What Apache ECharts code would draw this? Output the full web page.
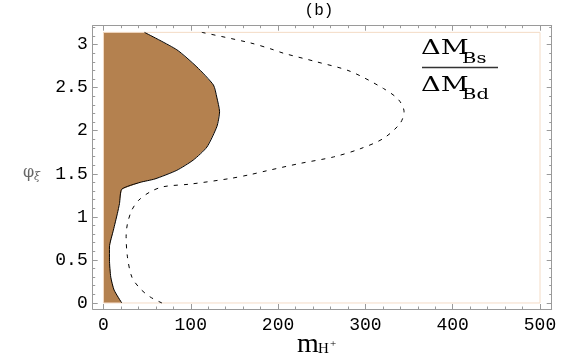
<!DOCTYPE html>
<html>
<head>
<meta charset="utf-8">
<script src="https://cdn.jsdelivr.net/npm/echarts@6/dist/echarts.min.js"></script>
<style>
  html, body { margin: 0; padding: 0; background: #fff; }
  #main { width: 576px; height: 356px; }
</style>
</head>
<body>
<div id="main"></div>
<script>
(function () {
    // tick values
    var xTicks = [0, 100, 200, 300, 400, 500];
    var yTicks = [0, 0.5, 1, 1.5, 2, 2.5, 3];
    var yTickLabels = ['0', '0.5', '1', '1.5', '2', '2.5', '3'];

    // region boundary (shaded area): m_H+ vs phi
    var fillMass = [47, 84, 107, 126, 129.8, 133, 130, 118.5, 103, 84, 59, 42, 21, 18.4, 16, 11.4, 6.9, 6.9, 8.4, 12.2, 21];
    var fillPhi = [3.1416, 2.94, 2.74, 2.53, 2.39, 2.22, 2.05, 1.81, 1.66, 1.54, 1.44, 1.40, 1.32, 1.155, 1.04, 0.845, 0.65, 0.50, 0.30, 0.15, 0];

    // dashed contour
    var dashMass = [112.7, 168, 194.6, 206, 244, 282.5, 320.7, 338, 344.3, 339.7, 320.6, 294, 263.4, 225.2, 187.1, 168, 145, 99.3, 68.7, 53.5, 40.1, 32.6, 27.5, 26, 27.5, 32.6, 42, 53.5, 67];
    var dashPhi = [3.1416, 3.02, 2.94, 2.90, 2.80, 2.69, 2.49, 2.36, 2.22, 2.084, 1.91, 1.79, 1.695, 1.62, 1.535, 1.49, 1.445, 1.38, 1.35, 1.29, 1.19, 1.08, 0.92, 0.77, 0.535, 0.30, 0.167, 0.07, 0];

    // plot region outline
    var regionMass = [0, 500, 500, 0, 0];
    var regionPhi = [0, 0, 3.1416, 3.1416, 0];

    var xMin = -12.3, xMax = 513.4;
    var yMin = -0.07, yMax = 3.219;

    var xMinor = [], yMinor = [];
    for (var i = 20; i < 500; i += 20) { if (i % 100 !== 0) xMinor.push(i); }
    for (var j = 1; j <= 32; j++) { if (j % 5 !== 0) yMinor.push(j / 10); }

    function zip(a, b) {
        var out = [];
        for (var k = 0; k < a.length; k++) out.push([a[k], b[k]]);
        return out;
    }

    var frameColor = '#9a9a9a';

    function xAxisDef(pos, ticks, len, showLine, labels) {
        return {
            type: 'value', position: pos, min: xMin, max: xMax,
            splitLine: { show: false },
            axisLine: { show: showLine, onZero: false, lineStyle: { color: frameColor, width: 1 } },
            axisTick: { show: true, inside: true, length: len, customValues: ticks, lineStyle: { color: frameColor } },
            axisLabel: labels ? {
                show: true, customValues: ticks, margin: 7,
                fontFamily: 'Liberation Mono', fontSize: 18, color: '#000'
            } : { show: false }
        };
    }

    function yAxisDef(pos, ticks, len, showLine, labels) {
        return {
            type: 'value', position: pos, min: yMin, max: yMax,
            splitLine: { show: false },
            axisLine: { show: showLine, onZero: false, lineStyle: { color: frameColor, width: 1 } },
            axisTick: { show: true, inside: true, length: len, customValues: ticks, lineStyle: { color: frameColor } },
            axisLabel: labels ? {
                show: true, customValues: ticks, margin: 5,
                fontFamily: 'Liberation Mono', fontSize: 18, color: '#000',
                formatter: function (v) {
                    var idx = yTicks.indexOf(v);
                    return idx >= 0 ? yTickLabels[idx] : '';
                }
            } : { show: false }
        };
    }

    var myChart = echarts.init(document.getElementById('main'));

    var fillPts = [[0, 3.1416]].concat(zip(fillMass, fillPhi)).concat([[0, 0]]);

    var option = {
        animation: false,
        backgroundColor: '#fff',
        grid: { left: 92.7, top: 25.7, right: 24.3, bottom: 47, containLabel: false },
        xAxis: [
            xAxisDef('bottom', xTicks, 5, true, true),
            xAxisDef('bottom', xMinor, 2.5, false, false),
            xAxisDef('top', xTicks, 5, true, false),
            xAxisDef('top', xMinor, 2.5, false, false)
        ],
        yAxis: [
            yAxisDef('left', yTicks, 5, true, true),
            yAxisDef('left', yMinor, 2.5, false, false),
            yAxisDef('right', yTicks, 5, true, false),
            yAxisDef('right', yMinor, 2.5, false, false)
        ],
        graphic: [
            { type: 'text', x: 319, y: 11, style: { text: '(b)', font: '16px "Liberation Mono"', fill: '#000', textAlign: 'center', textVerticalAlign: 'middle' } },
            // y axis name
            { type: 'text', x: 23, y: 173, style: { text: 'φ', font: '16px "DejaVu Serif"', fill: '#666', textAlign: 'left', textVerticalAlign: 'middle' } },
            { type: 'text', x: 34, y: 177, style: { text: 'ξ', font: 'italic 11px "DejaVu Serif"', fill: '#666', textAlign: 'left', textVerticalAlign: 'middle' } },
            // x axis name
            { type: 'text', x: 297, y: 359, style: { text: 'm', font: '28px "Liberation Serif"', fill: '#000', textAlign: 'left', textVerticalAlign: 'bottom' } },
            { type: 'text', x: 318, y: 357, style: { text: 'H', font: '15px "Liberation Serif"', fill: '#000', textAlign: 'left', textVerticalAlign: 'bottom' } },
            { type: 'text', x: 330, y: 350, style: { text: '+', font: '11px "Liberation Serif"', fill: '#000', textAlign: 'left', textVerticalAlign: 'bottom' } },
            // ratio annotation
            { type: 'text', x: 421, y: 59, scaleX: 1.3, style: { text: 'ΔM', font: '21px "DejaVu Serif"', fill: '#000', textAlign: 'left', textVerticalAlign: 'bottom' } },
            { type: 'text', x: 462, y: 66, scaleX: 1.4, style: { text: 'Bs', font: '14px "DejaVu Serif"', fill: '#000', textAlign: 'left', textVerticalAlign: 'bottom' } },
            { type: 'line', shape: { x1: 422, y1: 67.5, x2: 498, y2: 67.5 }, style: { stroke: '#333', lineWidth: 1.5 } },
            { type: 'text', x: 421, y: 96, scaleX: 1.3, style: { text: 'ΔM', font: '21px "DejaVu Serif"', fill: '#000', textAlign: 'left', textVerticalAlign: 'bottom' } },
            { type: 'text', x: 462, y: 102, scaleX: 1.4, style: { text: 'Bd', font: '14px "DejaVu Serif"', fill: '#000', textAlign: 'left', textVerticalAlign: 'bottom' } }
        ],
        series: [
            {
                type: 'line', data: zip(regionMass, regionPhi), symbol: 'none',
                lineStyle: { color: '#f4dcc6', width: 1 }, silent: true
            },
            {
                type: 'custom', data: [[0, 0]], silent: true,
                renderItem: function (params, api) {
                    var pts = fillPts.map(function (p) { return api.coord(p); });
                    return { type: 'polygon', shape: { points: pts }, style: { fill: '#b4814f', stroke: null } };
                }
            },
            {
                type: 'line', data: zip(fillMass, fillPhi), symbol: 'none', smooth: 0.2,
                lineStyle: { color: '#000', width: 1 }, silent: true
            },
            {
                type: 'line', data: zip(dashMass, dashPhi), symbol: 'none', smooth: 0.3,
                lineStyle: { color: '#000', width: 1, type: [4, 6] }, silent: true
            }
        ]
    };

    myChart.setOption(option);
})();
</script>
</body>
</html>
